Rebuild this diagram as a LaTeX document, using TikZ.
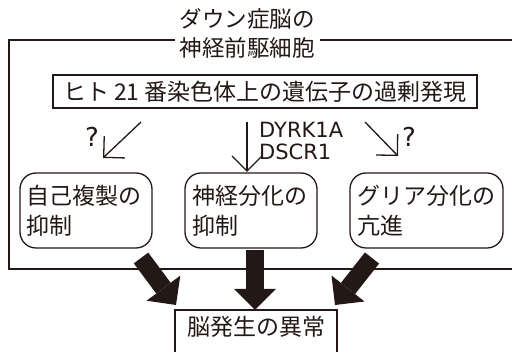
\documentclass[tikz,border=0pt]{standalone}
\usepackage{fontspec}
\setmainfont{Noto Sans CJK JP}
\newfontfamily\latfont{DejaVu Sans}
\usetikzlibrary{arrows.meta}
\definecolor{ink}{HTML}{231815}
\begin{document}
\begin{tikzpicture}[x=1pt,y=-1pt,
  every node/.style={inner sep=0pt, text=ink},
  frameline/.style={draw=ink, line width=2pt},
  boxline/.style={draw=ink, line width=1.6pt},
  roundbox/.style={draw=ink, line width=1.3pt, rounded corners=16pt, align=left, inner xsep=7pt, minimum height=75pt, font=\fontsize{23}{30}\selectfont},
  thinarrow/.style={draw=ink, line width=1.3pt, -{Straight Barb[length=15pt,width=30pt]}},
  bigarrow/.style={draw=ink, line width=18pt, -{Triangle[length=21pt,width=42pt,line width=0pt]}},
  jp/.style={font=\fontsize{23}{28}\selectfont},
  latlabel/.style={font={\latfont\fontsize{21}{22}\selectfont}},
  qlabel/.style={font={\latfont\fontsize{26}{28}\selectfont}},
]
\clip (0,0) rectangle (512,352);
% outer frame
\coordinate (ftl) at (9,40);
\coordinate (fbr) at (530,269);
\draw[frameline] (ftl) rectangle (fbr);
\node[fill=white, inner xsep=5pt, inner ysep=2pt, align=center, font=\fontsize{22.5}{29}\selectfont] (title) at (247,33) {ダウン症脳の\\神経前駆細胞};
% gene box
\node[boxline, jp, minimum width=424pt, minimum height=33pt] (gene) at (265,91.5) {ヒト 21 番染色体上の遺伝子の過剰発現};
% rounded boxes
\node[roundbox, text width=118pt] (b1) at (86,210.5) {自己複製の\\抑制};
\node[roundbox, text width=118pt] (b2) at (251,210.5) {神経分化の\\抑制};
\node[roundbox, text width=139pt] (b3) at (426.5,210.5) {グリア分化の\\亢進};
% thin arrows
\coordinate (a1s) at (141,122); \coordinate (a1e) at (103,158);
\coordinate (a2s) at (247,122); \coordinate (a2e) at (247,172);
\coordinate (a3s) at (365,122); \coordinate (a3e) at (398,156);
\draw[thinarrow] (a1s) -- (a1e);
\draw[thinarrow] (a2s) -- (a2e);
\draw[thinarrow] (a3s) -- (a3e);
\node[qlabel] (q1) at (92,137) {?};
\node[qlabel] (q2) at (409,137) {?};
\node[latlabel, align=left, anchor=west] (genes) at (259,141) {DYRK1A\\DSCR1};
% bottom box
\node[jp, minimum width=162pt, minimum height=34pt] (brain) at (256,327) {脳発生の異常};
\draw[boxline] ([yshift=-40pt]brain.south west) -- (brain.north west) -- (brain.north east) -- ([yshift=-40pt]brain.south east);
% thick arrows
\coordinate (t1s) at (141,258); \coordinate (t1e) at (176,305);
\coordinate (t2s) at (255,250); \coordinate (t2e) at (255,310);
\coordinate (t3s) at (372,258); \coordinate (t3e) at (335,305);
\draw[bigarrow] (t1s) -- (t1e);
\draw[bigarrow] (t2s) -- (t2e);
\draw[bigarrow] (t3s) -- (t3e);
\end{tikzpicture}
\end{document}
